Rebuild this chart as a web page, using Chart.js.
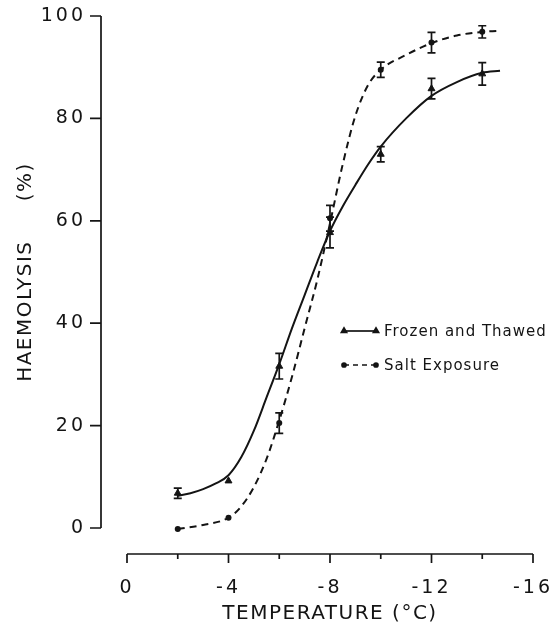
<!DOCTYPE html>
<html>
<head>
<meta charset="utf-8">
<script src="https://cdn.jsdelivr.net/npm/chart.js@4.4.1/dist/chart.umd.min.js"></script>
<style>
  html, body { margin: 0; padding: 0; background: #fff; }
  #wrap { width: 551px; height: 625px; }
</style>
</head>
<body>
<div id="wrap"><canvas id="chart" width="551" height="625"></canvas></div>
<script>
// measured points (temperature in °C, haemolysis in %)
const temps = [-2, -4, -6, -8, -10, -12, -14];
const frozenThawed = [6.8, 9.2, 31.6, 57.7, 73.0, 85.8, 88.7];
const frozenErr = [1, 0, 2.5, 3, 1.5, 2, 2.2];
const saltExposure = [-0.2, 2.0, 20.5, 60.5, 89.5, 94.8, 96.9];
const saltErr = [0, 0, 2, 2.5, 1.5, 2, 1.2];

// fitted curves
const frozenCurveX = [-2, -2.5, -3, -3.5, -4, -4.5, -5, -5.5, -6, -6.5, -7, -7.5, -8, -8.5, -9, -9.5, -10, -11, -12, -13, -14, -14.7];
const frozenCurveY = [6.3, 6.8, 7.6, 8.7, 10.3, 13.8, 19, 25.5, 32, 39, 45.5, 52, 58, 62.8, 67, 71, 74.5, 80, 84.4, 87.1, 88.9, 89.3];
const saltCurveX = [-2, -3, -4, -4.5, -5, -5.5, -6, -6.5, -7, -7.5, -8, -8.5, -9, -9.5, -10, -11, -12, -13, -14, -14.6];
const saltCurveY = [-0.2, 0.6, 2.0, 4.2, 8, 13.5, 21, 29.5, 39, 48.5, 59.5, 71, 80.5, 86.5, 89.5, 92.4, 94.7, 96.2, 96.9, 97.1];

// axis ticks
const xTicks = [0, -4, -8, -12, -16];
const xTickLabels = ['0', '-4', '-8', '-12', '-16'];
const xMinorTicks = [-2, -6, -10, -14];
const yTicks = [0, 20, 40, 60, 80, 100];
const yTickLabels = ['0', '20', '40', '60', '80', '100'];

const ink = '#141414';
const pairs = (xs, ys) => xs.map((x, i) => ({ x: x, y: ys[i] }));

Chart.defaults.font.family = 'DejaVu Sans';
Chart.defaults.color = ink;

// keep the plot area where the figure has it: no room reserved for label overhang
function noOverhang(s) {
  s.paddingLeft = 0;
  s.paddingRight = 0;
  s.paddingTop = 0;
  s.paddingBottom = 0;
}

// the figure has detached axes, offset from the plotting area.
// axis titles are drawn before the datasets, tick labels (z: 1) after them,
// so each gets its own letter spacing.
const offsetAxes = {
  id: 'offsetAxes',
  beforeDraw(chart) {
    chart.ctx.letterSpacing = '1.5px';
  },
  beforeDatasetsDraw(chart) {
    chart.ctx.letterSpacing = '0px';
  },
  afterDatasetsDraw(chart) {
    chart.ctx.letterSpacing = '3px';
  },
  afterDraw(chart) {
    const { ctx, scales: { x, y } } = chart;
    const gap = 26;
    ctx.save();
    ctx.letterSpacing = '0px';
    ctx.strokeStyle = ink;
    ctx.lineWidth = 1.7;
    ctx.lineCap = 'butt';

    const ax = x.getPixelForValue(0) - gap;
    ctx.beginPath();
    ctx.moveTo(ax, y.getPixelForValue(100));
    ctx.lineTo(ax, y.getPixelForValue(0));
    yTicks.forEach(v => {
      const py = y.getPixelForValue(v);
      ctx.moveTo(ax - 11, py);
      ctx.lineTo(ax, py);
    });
    ctx.stroke();

    const ay = y.getPixelForValue(0) + gap;
    ctx.beginPath();
    ctx.moveTo(x.getPixelForValue(0), ay);
    ctx.lineTo(x.getPixelForValue(-16), ay);
    xTicks.forEach(v => {
      const px = x.getPixelForValue(v);
      ctx.moveTo(px, ay);
      ctx.lineTo(px, ay + 9);
    });
    xMinorTicks.forEach(v => {
      const px = x.getPixelForValue(v);
      ctx.moveTo(px, ay);
      ctx.lineTo(px, ay + 5);
    });
    ctx.stroke();
    ctx.restore();
  }
};

// error bars and the in-plot key
const errorBarsAndKey = {
  id: 'errorBarsAndKey',
  afterDatasetsDraw(chart) {
    const { ctx, scales: { x, y } } = chart;
    ctx.save();
    ctx.letterSpacing = '0px';
    ctx.strokeStyle = ink;
    ctx.lineWidth = 1.7;
    chart.data.datasets.forEach(ds => {
      if (!ds.errors) return;
      ds.data.forEach((p, i) => {
        const e = ds.errors[i];
        if (!e) return;
        const px = x.getPixelForValue(p.x);
        const top = y.getPixelForValue(p.y + e);
        const bot = y.getPixelForValue(p.y - e);
        ctx.beginPath();
        ctx.moveTo(px, top); ctx.lineTo(px, bot);
        ctx.moveTo(px - 4, top); ctx.lineTo(px + 4, top);
        ctx.moveTo(px - 4, bot); ctx.lineTo(px + 4, bot);
        ctx.stroke();
      });
    });

    // key
    const keyX = 344, keyLen = 32, rows = [331, 365];
    const keyed = chart.data.datasets.filter(ds => ds.errors);
    keyed.forEach((ds, i) => {
      const ky = rows[i];
      ctx.beginPath();
      ctx.setLineDash(ds.keyDash);
      ctx.lineWidth = 1.7;
      ctx.moveTo(keyX, ky);
      ctx.lineTo(keyX + keyLen, ky);
      ctx.stroke();
      ctx.setLineDash([]);
      [keyX, keyX + keyLen].forEach(mx => {
        Chart.helpers.drawPoint(ctx, {
          pointStyle: ds.pointStyle, radius: ds.pointRadius - 1, borderWidth: 1
        }, mx, ky);
        ctx.fillStyle = ink;
        ctx.fill();
      });
      ctx.fillStyle = ink;
      ctx.font = '15px "DejaVu Sans"';
      ctx.letterSpacing = '1px';
      ctx.textBaseline = 'middle';
      ctx.textAlign = 'left';
      ctx.fillText(ds.label, keyX + keyLen + 8, ky + 1);
      ctx.letterSpacing = '0px';
    });
    ctx.restore();
  }
};

new Chart(document.getElementById('chart'), {
  type: 'scatter',
  data: {
    datasets: [
      {
        label: 'Frozen and Thawed',
        data: pairs(temps, frozenThawed),
        errors: frozenErr,
        keyDash: [],
        pointStyle: 'triangle',
        pointRadius: 4,
        backgroundColor: ink,
        borderColor: ink,
        borderWidth: 1,
        showLine: false,
        clip: false
      },
      {
        label: 'Salt Exposure',
        data: pairs(temps, saltExposure),
        errors: saltErr,
        keyDash: [5, 4],
        pointStyle: 'circle',
        pointRadius: 3,
        backgroundColor: ink,
        borderColor: ink,
        borderWidth: 0,
        showLine: false,
        clip: false
      },
      {
        label: 'Frozen and Thawed fit',
        data: pairs(frozenCurveX, frozenCurveY),
        showLine: true,
        pointRadius: 0,
        borderColor: ink,
        borderWidth: 2,
        cubicInterpolationMode: 'monotone',
        clip: false
      },
      {
        label: 'Salt Exposure fit',
        data: pairs(saltCurveX, saltCurveY),
        showLine: true,
        pointRadius: 0,
        borderColor: ink,
        borderWidth: 2,
        borderDash: [7, 5],
        cubicInterpolationMode: 'monotone',
        clip: false
      }
    ]
  },
  options: {
    responsive: false,
    animation: false,
    layout: { padding: { top: 16, right: 18, bottom: 0, left: 0 } },
    plugins: {
      legend: { display: false },
      tooltip: { enabled: false }
    },
    scales: {
      x: {
        type: 'linear',
        min: -16,
        max: 0,
        reverse: true,
        afterBuildTicks: s => { s.ticks = xTicks.map(v => ({ value: v })); },
        afterFit: s => { s.height = 97; noOverhang(s); },
        grid: { display: false, drawTicks: false },
        border: { display: false },
        ticks: {
          z: 1,
          autoSkip: false,
          maxRotation: 0,
          padding: 49,
          font: { size: 19 },
          callback: (v, i) => xTickLabels[i]
        },
        title: {
          display: true,
          text: 'TEMPERATURE (°C)',
          font: { size: 20, lineHeight: 1.1 },
          padding: 0
        }
      },
      y: {
        min: 0,
        max: 100,
        afterBuildTicks: s => { s.ticks = yTicks.map(v => ({ value: v })); },
        afterFit: s => { s.width = 127; noOverhang(s); },
        grid: { display: false, drawTicks: false },
        border: { display: false },
        ticks: {
          z: 1,
          padding: 41,
          font: { size: 19 },
          callback: (v, i) => yTickLabels[i]
        },
        title: {
          display: true,
          text: 'HAEMOLYSIS     (%)',
          font: { size: 20, lineHeight: 1.1 },
          padding: { top: 15, bottom: 0 }
        }
      }
    }
  },
  plugins: [offsetAxes, errorBarsAndKey]
});
</script>
</body>
</html>
